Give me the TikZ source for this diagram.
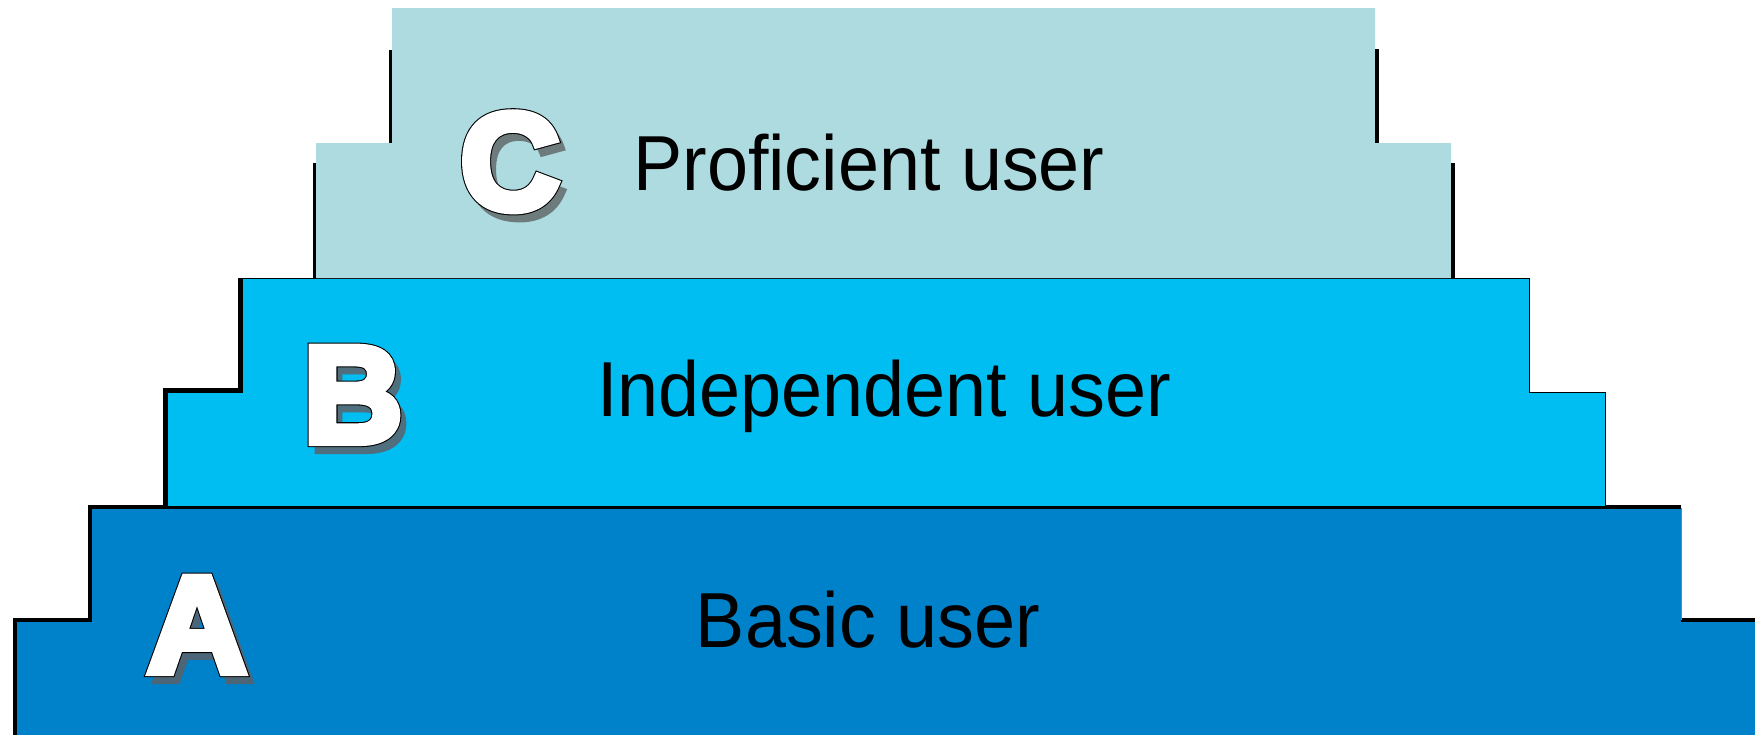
\documentclass[tikz,border=0pt]{standalone}
\usepackage{fontspec}
\setmainfont{Liberation Sans}
\newfontfamily\userfont[FakeStretch=0.945]{Liberation Sans}
\newfontfamily\letterfont[UprightFont={* Bold}]{Liberation Sans}
\definecolor{tierC}{HTML}{ADDBE0}
\definecolor{tierB}{HTML}{00BDF2}
\definecolor{tierA}{HTML}{0082CA}
\definecolor{shadeC}{HTML}{6E7B7C}
\definecolor{shadeB}{HTML}{4F6E7E}
\definecolor{shadeA}{HTML}{4C6678}
% heavy white glyph with a thin black outline
\newcommand\hollow[1]{\special{pdf:literal direct 2 Tr 0 g 0 G 2.9 w 0 j 3 M}\rlap{#1}%
  \special{pdf:literal direct 1 g 1 G 2.3 w}#1\special{pdf:literal direct 0 Tr}}
% same heavy glyph, one colour (for the shadow)
\newcommand\solidglyph[1]{\special{pdf:literal direct 2 Tr 2.3 w 0 j 3 M}#1\special{pdf:literal direct 0 Tr}}

\begin{document}
\begin{tikzpicture}
  [x=0.1mm,y=-0.1mm,
  tierline/.style={draw=black,line width=0.1mm},
  stepedge/.style={black,line width=0.4mm},
  thinedge/.style={black,line width=0.3mm},
  lvlletter/.style={font=\letterfont\fontsize{39}{40}\selectfont,inner sep=0pt,anchor=base},
  userlabel/.style={font=\userfont\fontsize{22.2}{24}\selectfont,inner sep=0pt,anchor=base}
  ]
  \useasboundingbox (0,0) rectangle (1755,735);

  % A level
  \fill[tierA] (17,735) -- (17,622) -- (92,622) -- (92,508) -- (1681,508)
    -- (1681,622) -- (1755,622) -- (1755,735) -- cycle;
  \draw[stepedge] (15,735) -- (15,620) -- (90,620) -- (90,507) -- (1681,507);
  \draw[stepedge] (1681,620) -- (1755,620);
  \draw[draw=gray,line width=0.1mm] (1681,508) -- (1681,620);

  % B level
  \draw[tierline,fill=tierB] (167,506) -- (167,392) -- (242,392) -- (242,278) -- (1529,278)
    -- (1529,392) -- (1605,392) -- (1605,506) -- cycle;
  \draw[stepedge] (165,506) -- (165,390) -- (240,390) -- (240,278);

  % C level
  \fill[tierC] (316,278) -- (316,143) -- (392,143) -- (392,8) -- (1375,8)
    -- (1375,143) -- (1451,143) -- (1451,278) -- cycle;
  \draw[thinedge] (390,50) -- (390,143);
  \draw[thinedge] (314,163) -- (314,278);
  \draw[stepedge] (1377,49) -- (1377,143);
  \draw[stepedge] (1453,163) -- (1453,278);

  \coordinate (posC) at (510,209);
  \coordinate (posB) at (353,442);
  \coordinate (posA) at (197,672);

  \foreach \lvl in {C,B,A} {
    \node[lvlletter,text=shade\lvl,xshift=0.6mm,yshift=-0.8mm] (shadow\lvl) at (pos\lvl) {\solidglyph{\lvl}};
    \node[lvlletter,text=white] (letter\lvl) at (pos\lvl) {\hollow{\lvl}};
  }

  \node[userlabel] (userC) at (869,190) {Proficient user};
  \node[userlabel] (userB) at (884,416) {Independent user};
  \node[userlabel] (userA) at (868,647) {Basic user};
\end{tikzpicture}
\end{document}
